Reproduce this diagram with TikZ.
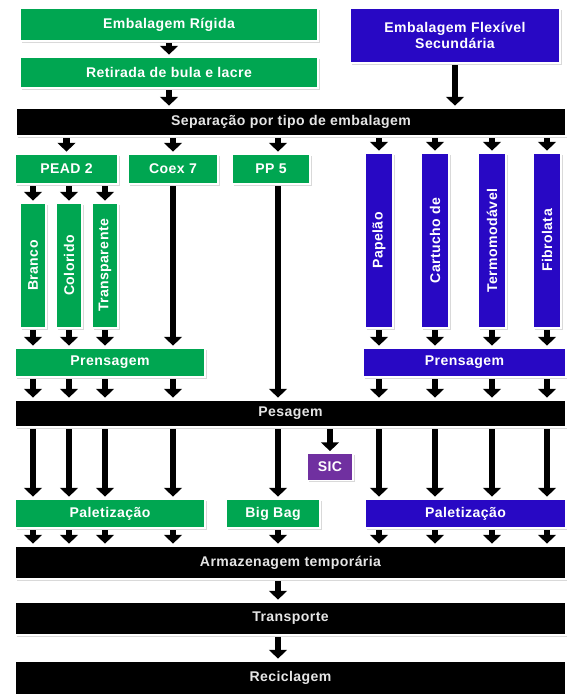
\documentclass[tikz,border=0pt]{standalone}
\usepackage{fontspec}
\newfontfamily\boxfont{Liberation Sans}[LetterSpace=3]
\usepackage{xcolor}
\usepackage{tikz}
\usetikzlibrary{calc, positioning, arrows.meta, shadows}
\definecolor{rigid}{RGB}{0,166,81}
\definecolor{flex}{RGB}{40,8,196}
\definecolor{sicpurple}{RGB}{112,48,160}
\tikzset{
	box/.style={
		draw=white,
		line width=1pt,
		inner sep=0pt,
		text=white,
		align=center,
		font=\boxfont\bfseries\fontsize{12}{14}\selectfont,
		drop shadow={opacity=0.3, shadow xshift=1.5pt, shadow yshift=-1.5pt}
	},
	rigid box/.style={box, fill=rigid},
	flex box/.style={box, fill=flex},
	stage box/.style={box, fill=black, text=white!90!black},
	sic box/.style={box, fill=sicpurple},
	wh/.style 2 args={
		minimum width=#1*0.03cm,
		minimum height=#2*0.03cm
	},
	arr/.style={
		line width=5.5pt,
		-{Triangle[width=15pt,length=7.5pt]},
		shorten <=1.5pt,
		shorten >=1.5pt
	}
}

\begin{document}
\begin{tikzpicture}[x=0.03cm, y=-0.03cm]
	\useasboundingbox (0,0) rectangle (567,694);
	\node[rigid box, wh={298}{33}] at (169,24.5) (rig) {Embalagem Rígida};
	\node[rigid box, wh={298}{31}] at (169,72.5) (ret) {Retirada de bula e lacre};
	\node[flex box, wh={210}{55}] at (455,35.5) (flx) {Embalagem Flexível\\Secundária};
	\node[stage box, wh={550}{28}] at (291,122) (sep) {Separação por tipo de embalagem};
	\node[rigid box, wh={103}{30}] at (66.5,169) (pead) {PEAD 2};
	\node[rigid box, wh={90}{30}] at (173,169) (coex) {Coex 7};
	\node[rigid box, wh={78}{30}] at (271,169) (pp) {PP 5};
	\coordinate (ppx) at (278,0);
	\node[rigid box, wh={26}{125}] at (33,265.5) (br) {\rotatebox{90}{Branco}};
	\node[rigid box, wh={26}{125}] at (69,265.5) (co) {\rotatebox{90}{Colorido}};
	\node[rigid box, wh={26}{125}] at (105,265.5) (tr) {\rotatebox{90}{Transparente}};
	\node[flex box, wh={28}{175}] at (379,240.5) (pa) {\rotatebox{90}{Papelão}};
	\node[flex box, wh={28}{175}] at (435,240.5) (ca) {\rotatebox{90}{Cartucho de}};
	\node[flex box, wh={28}{175}] at (492,240.5) (te) {\rotatebox{90}{Termomodável}};
	\node[flex box, wh={28}{175}] at (547,240.5) (fi) {\rotatebox{90}{Fibrolata}};
	\node[rigid box, wh={190}{29}] at (110,362.5) (prg) {Prensagem};
	\node[flex box, wh={203}{29}] at (464.5,362.5) (prb) {Prensagem};
	\node[stage box, wh={551}{27}] at (290.5,413.5) (pes) {Pesagem};
	\node[sic box, wh={46}{27}] at (330,467) (sic) {SIC};
	\node[rigid box, wh={190}{29}] at (110,513.5) (palg) {Paletização};
	\node[rigid box, wh={94}{29}] at (273,513.5) (bb) {Big Bag};
	\node[flex box, wh={201}{29}] at (465.5,513.5) (palb) {Paletização};
	\node[stage box, wh={551}{33}] at (290.5,562.5) (arm) {Armazenagem temporária};
	\node[stage box, wh={551}{33}] at (290.5,618.5) (tra) {Transporte};
	\node[stage box, wh={551}{34}] at (290.5,678) (rec) {Reciclagem};

	\draw[arr] (rig) -- (ret);
	\draw[arr] (ret.south) -- (ret.south |- sep.north);
	\draw[arr] (flx.south) -- (flx.south |- sep.north);
	\foreach \n in {pead, coex, pa, ca, te, fi}
		\draw[arr] (sep.south -| \n.north) -- (\n.north);
	\draw[arr] (sep.south -| ppx) -- (pp.north -| ppx);
	\foreach \n in {br, co, tr}
		\draw[arr] (pead.south -| \n.north) -- (\n.north);
	\foreach \n in {br, co, tr}
		\draw[arr] (\n.south) -- (prg.north -| \n.south);
	\draw[arr] (coex.south) -- (prg.north -| coex.south);
	\foreach \n in {pa, ca, te, fi}
		\draw[arr] (\n.south) -- (prb.north -| \n.south);
	\draw[arr] (pp.south -| ppx) -- (pes.north -| ppx);
	\foreach \n in {br, co, tr, coex}
		\draw[arr] (prg.south -| \n.south) -- (pes.north -| \n.south);
	\foreach \n in {pa, ca, te, fi}
		\draw[arr] (prb.south -| \n.south) -- (pes.north -| \n.south);
	\foreach \n in {br, co, tr, coex}
		\draw[arr] (pes.south -| \n.south) -- (palg.north -| \n.south);
	\draw[arr] (pes.south -| ppx) -- (bb.north -| ppx);
	\draw[arr] (pes.south -| sic.north) -- (sic.north);
	\foreach \n in {pa, ca, te, fi}
		\draw[arr] (pes.south -| \n.south) -- (palb.north -| \n.south);
	\foreach \n in {br, co, tr, coex}
		\draw[arr] (palg.south -| \n.south) -- (arm.north -| \n.south);
	\draw[arr] (bb.south -| ppx) -- (arm.north -| ppx);
	\foreach \n in {pa, ca, te, fi}
		\draw[arr] (palb.south -| \n.south) -- (arm.north -| \n.south);
	\draw[arr] (arm.south -| ppx) -- (tra.north -| ppx);
	\draw[arr] (tra.south -| ppx) -- (rec.north -| ppx);
\end{tikzpicture}
\end{document}
